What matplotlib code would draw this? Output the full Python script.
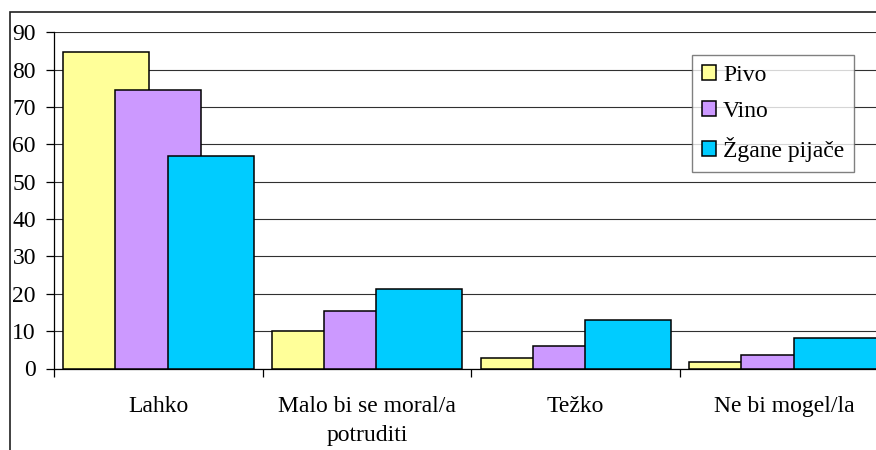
import matplotlib.pyplot as plt
import numpy as np
from matplotlib.patches import Rectangle

# Data
categories = ['Lahko', 'Malo bi se moral/a\npotruditi', 'Težko', 'Ne bi mogel/la']
series_names = ['Pivo', 'Vino', 'Žgane pijače']
pivo = [84.8, 10.0, 2.7, 1.7]
vino = [74.5, 15.4, 6.1, 3.7]
zgane = [57.0, 21.3, 12.9, 8.1]
yticks = [0, 10, 20, 30, 40, 50, 60, 70, 80, 90]

colors = ['#FFFF99', '#CC99FF', '#00CCFF']

plt.rcParams['font.family'] = ['Liberation Serif', 'DejaVu Serif']
font_size = 17

W, H = 876, 450
fig = plt.figure(figsize=(W / 100, H / 100), dpi=100)

# outer chart border, runs off the right and bottom edges
fig.patches.append(Rectangle((10 / W, -0.1), 1.2, 1 - 12 / H + 0.1,
                             transform=fig.transFigure, fill=False,
                             edgecolor='#202020', linewidth=1.2))

# plot area (wider than the figure, last category is cut off)
left, right = 54 / W, 888.8 / W
bottom, top = (H - 368.5) / H, (H - 32.3) / H
ax = fig.add_axes([left, bottom, right - left, top - bottom])

x = np.arange(len(categories))
width = 0.412
step = 0.25
for i, (vals, name) in enumerate(zip([pivo, vino, zgane], series_names)):
    ax.bar(x + (i - 1) * step, vals, width, color=colors[i], edgecolor='black',
           linewidth=1.1, label=name, zorder=3 + i)

ax.set_xlim(-0.5, len(categories) - 0.5)
ax.set_ylim(0, 90)
ax.set_yticks(yticks)
ax.yaxis.grid(True, color='#303030', linewidth=0.8, zorder=0)
ax.set_axisbelow(True)

for s in ['top', 'right']:
    ax.spines[s].set_visible(False)
for s in ['left', 'bottom']:
    ax.spines[s].set_color('black')
    ax.spines[s].set_linewidth(0.9)

# tick marks at category boundaries, labels at centres
ax.set_xticks(np.arange(len(categories) + 1) - 0.5)
ax.set_xticklabels([])
ax.set_xticks(x, minor=True)
ax.set_xticklabels(categories, minor=True, fontsize=font_size, linespacing=1.5)
ax.tick_params(axis='x', which='major', length=6, width=0.9, direction='out')
ax.tick_params(axis='x', which='minor', length=0, pad=20)
ax.tick_params(axis='y', length=6, width=0.9, pad=7, labelsize=font_size)

leg = ax.legend(loc='upper left', bbox_to_anchor=(692 / W, 1 - 55 / H),
                bbox_transform=fig.transFigure, borderaxespad=0,
                fontsize=font_size, frameon=True, fancybox=False,
                edgecolor='#606060', handlelength=0.6, handleheight=0.6,
                handletextpad=0.3, labelspacing=0.64, borderpad=0.42)
leg.get_frame().set_linewidth(1.0)
leg.set_zorder(10)

plt.savefig('out.png', dpi=100)
